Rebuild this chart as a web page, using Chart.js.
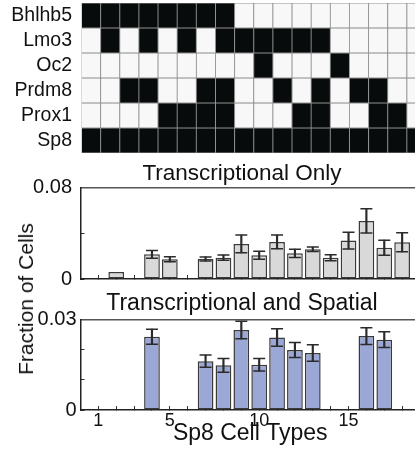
<!DOCTYPE html>
<html>
<head>
<meta charset="utf-8">
<script src="https://cdn.jsdelivr.net/npm/chart.js@4"></script>
<style>
  body { margin: 0; background: #fff; }
  #wrap { position: relative; width: 415px; height: 456px; overflow: hidden; background: #fff; }
  #wrap canvas { position: absolute; left: 0; }
  #ylab {
    position: absolute; left: 25.5px; top: 299px;
    transform: translate(-50%, -50%) rotate(-90deg);
    font: 21px 'Liberation Sans', Arial, sans-serif; color: #111; white-space: nowrap;
  }
</style>
</head>
<body>
<div id="wrap">
  <canvas id="heat" width="426" height="156" style="top:0"></canvas>
  <canvas id="trans" width="420" height="129" style="top:157px"></canvas>
  <canvas id="spatial" width="420" height="170" style="top:286px"></canvas>
  <div id="ylab">Fraction of Cells</div>
</div>
<script>
// Sp8 cell types and the marker genes that define them
const cellTypes = [1, 2, 3, 4, 5, 6, 7, 8, 9, 10, 11, 12, 13, 14, 15, 16, 17, 18]
const genes = ['Bhlhb5', 'Lmo3', 'Oc2', 'Prdm8', 'Prox1', 'Sp8']
const expression = [
  [1, 1, 1, 1, 1, 1, 1, 1, 0, 0, 0, 0, 0, 0, 0, 0, 0, 0],
  [0, 1, 0, 1, 0, 1, 0, 1, 1, 1, 1, 1, 1, 0, 0, 0, 0, 0],
  [0, 0, 0, 0, 0, 0, 0, 0, 0, 1, 0, 0, 0, 1, 0, 0, 0, 0],
  [0, 0, 1, 1, 0, 0, 1, 1, 0, 0, 1, 0, 1, 0, 1, 1, 0, 0],
  [0, 0, 0, 0, 1, 1, 1, 1, 0, 0, 0, 1, 1, 0, 0, 1, 1, 0],
  [1, 1, 1, 1, 1, 1, 1, 1, 1, 1, 1, 1, 1, 1, 1, 1, 1, 1],
]

// fraction of cells, transcriptional only
const transOnly = [null, 0.006, null, 0.0215, 0.0172, null, 0.0175, 0.0186, 0.0306, 0.0207,
  0.0323, 0.0224, 0.0259, 0.0186, 0.0335, 0.0507, 0.0273, 0.032]
const transOnlyErr = [null, null, null, 0.0033, 0.0022, null, 0.0018, 0.0023, 0.0078, 0.0035,
  0.006, 0.0036, 0.002, 0.0026, 0.0073, 0.0105, 0.0066, 0.0083]

// fraction of cells, transcriptional and spatial
const transSpatial = [null, null, null, 0.0243, null, null, 0.0162, 0.0148, 0.0265, 0.015,
  0.024, 0.0199, 0.0189, null, null, 0.0245, 0.0233, null]
const transSpatialErr = [null, null, null, 0.0025, null, null, 0.002, 0.0023, 0.0029, 0.0021,
  0.0029, 0.0025, 0.0027, null, null, 0.0028, 0.0026, null]

const xTickLabels = [1, 5, 10, 15]

Chart.defaults.font.family = "'Liberation Sans', Arial, sans-serif"
Chart.defaults.color = '#111'
Chart.defaults.animation = false
Chart.defaults.plugins.legend.display = false
Chart.defaults.plugins.tooltip.enabled = false

// fixed axis sizes, no extra room for overhanging labels
const fitX = (h) => (s) => { s.height = h; s.paddingLeft = 0; s.paddingRight = 0 }
const fitY = (w) => (s) => { s.width = w; s.paddingTop = 0; s.paddingBottom = 0 }

// move the title block so its text is centred on a given x
const titleCenter = {
  id: 'titleCenter',
  afterLayout(chart, args, opts) {
    const t = chart.titleBlock
    if (!t || opts.x == null) return
    const half = (t.right - t.left) / 2
    t.left = opts.x - half
    t.right = opts.x + half
  },
}

// heatmap: one floating bar per cell
new Chart(document.getElementById('heat'), {
  type: 'bar',
  data: {
    labels: cellTypes.map(String),
    datasets: genes.map((gene, r) => ({
      label: gene,
      data: cellTypes.map(() => [r, r + 1]),
      backgroundColor: expression[r].map((v) => (v ? '#070b0b' : '#f8f8f8')),
      borderColor: '#8e8e8e',
      borderWidth: 0.8,
      borderSkipped: false,
      barPercentage: 1,
      categoryPercentage: 1,
      grouped: false,
    })),
  },
  options: {
    responsive: false,
    layout: { autoPadding: false, padding: { top: 3, bottom: 3, left: 0, right: 0 } },
    scales: {
      x: { display: false },
      y: {
        reverse: true,
        min: 0,
        max: genes.length,
        afterFit: fitY(81.5),
        afterBuildTicks: (s) => { s.ticks = genes.map((g, i) => ({ value: i + 0.5 })) },
        ticks: { autoSkip: false, padding: 9.5, font: { size: 19.5 }, callback: (v) => genes[Math.floor(v)] },
        grid: { display: false, drawTicks: false },
        border: { display: false },
      },
    },
  },
})

function barSets(values, errors, fill) {
  const bars = []
  const stems = []
  const caps = []
  cellTypes.forEach((c, i) => {
    if (values[i] == null) return
    bars.push({ x: c, y: values[i] })
    if (errors[i] == null) return
    stems.push({ x: c, y: [values[i] - errors[i], values[i] + errors[i]] })
    caps.push({ x: c, y: values[i] - errors[i] }, { x: c, y: values[i] + errors[i] })
  })
  return [
    {
      type: 'scatter', data: caps, order: 1,
      pointStyle: 'line', pointRadius: 6, pointHoverRadius: 6,
      borderColor: '#2b2b2b', pointBorderColor: '#2b2b2b', pointBorderWidth: 1.5,
    },
    { type: 'bar', data: stems, order: 2, backgroundColor: '#2b2b2b', barThickness: 1.5, grouped: false },
    {
      type: 'bar', data: bars, order: 3,
      backgroundColor: fill, borderColor: '#3a3a3a', borderWidth: 1.5, borderSkipped: false,
      barPercentage: 0.88, categoryPercentage: 1, grouped: false,
    },
  ]
}

function barOptions(o) {
  return {
    responsive: false,
    layout: { autoPadding: false, padding: 0 },
    plugins: {
      title: { display: true, text: o.title, font: { size: o.titleSize, weight: 'normal' }, color: '#111', padding: o.titlePad },
      titleCenter: { x: 242 },
    },
    scales: {
      x: {
        type: 'linear', min: 0, max: 19, offset: false,
        afterFit: fitX(o.xHeight),
        ticks: {
          stepSize: 1, autoSkip: false, maxRotation: 0, display: o.xLabels, padding: 4.7,
          font: { size: 18 }, callback: (v) => (xTickLabels.includes(v) ? String(v) : ''),
        },
        grid: { offset: false, drawOnChartArea: false, tickLength: -4, tickColor: '#333', tickWidth: 1 },
        border: { color: '#222', width: 1.5 },
        title: { display: o.xLabels, text: 'Sp8 Cell Types', font: { size: 23 }, padding: { top: 0, bottom: 9 } },
      },
      xTop: {
        type: 'linear', position: 'top', min: 0, max: 19, offset: false,
        afterFit: fitX(0),
        ticks: { display: false },
        grid: { display: false },
        border: { color: '#555', width: 1.5 },
      },
      y: {
        min: 0, max: o.yMax,
        afterFit: fitY(80.5),
        ticks: {
          stepSize: o.yStep, padding: o.yPad, font: { size: 20 },
          callback: (v) => (v === 0 ? '0' : Math.abs(v - o.yMax) < 1e-9 ? o.yTop : ''),
        },
        grid: { drawOnChartArea: false, tickLength: -4, tickColor: '#333', tickWidth: 1 },
        border: { color: '#222', width: 1.5 },
      },
    },
  }
}

new Chart(document.getElementById('trans'), {
  type: 'bar',
  data: { datasets: barSets(transOnly, transOnlyErr, '#d9d9d9') },
  options: barOptions({
    title: 'Transcriptional Only', titleSize: 22.5, titlePad: { top: 3.3, bottom: 0 },
    xHeight: 7, xLabels: false, yMax: 0.08, yStep: 0.02, yTop: '0.08', yPad: 12.5,
  }),
  plugins: [titleCenter],
})

new Chart(document.getElementById('spatial'), {
  type: 'bar',
  data: { datasets: barSets(transSpatial, transSpatialErr, '#9ba8d6') },
  options: barOptions({
    title: 'Transcriptional and Spatial', titleSize: 23, titlePad: { top: 3.9, bottom: 2 },
    xHeight: 46, xLabels: true, yMax: 0.03, yStep: 0.01, yTop: '0.03', yPad: 8,
  }),
  plugins: [titleCenter],
})
</script>
</body>
</html>
